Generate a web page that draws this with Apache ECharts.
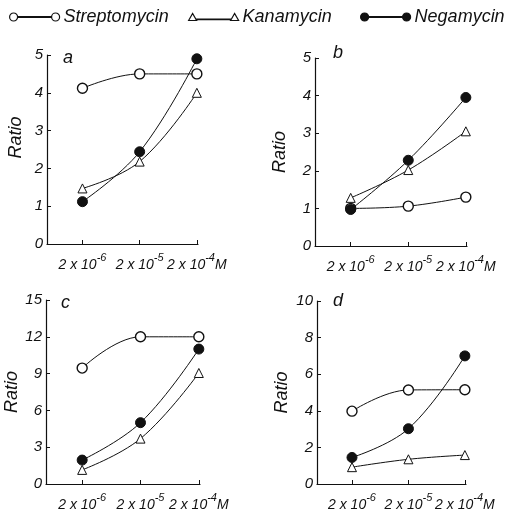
<!DOCTYPE html>
<html>
<head>
<meta charset="utf-8">
<script src="https://cdn.jsdelivr.net/npm/echarts@6/dist/echarts.min.js"></script>
<style>
  html, body { margin: 0; padding: 0; background: #fff; }
  #chart { width: 523px; height: 512px; }
</style>
</head>
<body>
<div id="chart"></div>
<script>
// concentrations on the x axis (index 0,1,2 = 2x10^-6, 2x10^-5, 2x10^-4 M)
const concExp = ['-6', '-5', '-4'];
const xIdx = [0, 1, 2];

// panel a
const aStrep = [4.12, 4.5, 4.5];
const aKana = [1.47, 2.18, 4.0];
const aNega = [1.12, 2.44, 4.9];
// panel b
const bStrep = [1.0, 1.06, 1.3];
const bKana = [1.28, 2.02, 3.05];
const bNega = [0.97, 2.28, 3.95];
// panel c
const cStrep = [9.45, 12.0, 12.0];
const cKana = [1.15, 3.7, 9.05];
const cNega = [1.95, 5.0, 11.0];
// panel d
const dStrep = [3.98, 5.14, 5.15];
const dKana = [0.92, 1.35, 1.58];
const dNega = [1.45, 3.02, 7.0];

const panelLetters = ['a', 'b', 'c', 'd'];
const yMax = [5, 5, 15, 10];
const yStep = [1, 1, 3, 2];

const ink = '#111';
const font = 'Liberation Sans';

let mychart = echarts.init(document.getElementById('chart'));

const grids = [
  {left: 47, top: 55, width: 151, height: 189},
  {left: 315, top: 58, width: 152, height: 188},
  {left: 46, top: 300, width: 154, height: 191},
  {left: 317, top: 301, width: 149, height: 189}
];
const namePad = [[0, 0, 0, 24], [0, 0, 0, 0], [0, 0, 0, 0], [0, 0, 0, 0]];
const nameGaps = [22, 26, 20, 26];
const letterPos = [[63, 49], [333, 44], [61, 294], [333, 292]];

function pts(vals) {
  return xIdx.map((x, i) => [x, vals[i]]);
}

function xLabel(v) {
  let i = Math.round(v);
  let s = '{n|2 x 10}{s|' + concExp[i] + '}';
  if (i === 2) s += '{n|M}';
  return s;
}

let xAxes = [], yAxes = [], series = [], titles = [];
grids.forEach((g, k) => {
  xAxes.push({
    gridIndex: k,
    type: 'value',
    min: -0.62,
    max: 2.02,
    splitLine: {show: false},
    axisLine: {onZero: false, lineStyle: {color: ink, width: 1.2}},
    axisTick: {show: true, inside: true, length: 4, customValues: xIdx, lineStyle: {color: ink}},
    axisLabel: {
      customValues: xIdx,
      margin: 8,
      formatter: xLabel,
      rich: {
        n: {fontFamily: font, fontStyle: 'italic', fontSize: 14, color: ink, lineHeight: 20, verticalAlign: 'bottom'},
        s: {fontFamily: font, fontStyle: 'italic', fontSize: 11, color: ink, lineHeight: 12, verticalAlign: 'top'}
      }
    }
  });
  yAxes.push({
    gridIndex: k,
    type: 'value',
    min: 0,
    max: yMax[k],
    interval: yStep[k],
    name: 'Ratio',
    nameLocation: 'middle',
    nameGap: nameGaps[k],
    nameTextStyle: {fontFamily: font, fontStyle: 'italic', fontSize: 18, color: ink, padding: namePad[k]},
    splitLine: {show: false},
    axisLine: {show: true, onZero: false, lineStyle: {color: ink, width: 1.2}},
    axisTick: {show: true, inside: true, length: 4, lineStyle: {color: ink}},
    axisLabel: {fontFamily: font, fontStyle: 'italic', fontSize: 15, color: ink, margin: 4}
  });
  titles.push({
    text: panelLetters[k],
    left: letterPos[k][0],
    top: letterPos[k][1],
    padding: 0,
    textStyle: {fontFamily: font, fontStyle: 'italic', fontWeight: 'normal', fontSize: 18, color: ink}
  });
});

function lineSeries(name, k, vals, kind) {
  let sym = {
    open: {symbol: 'circle', symbolSize: 10, itemStyle: {color: '#fff', borderColor: ink, borderWidth: 1.4}},
    tri: {symbol: 'triangle', symbolSize: 9, itemStyle: {color: '#fff', borderColor: ink, borderWidth: 1}},
    full: {symbol: 'circle', symbolSize: 10, itemStyle: {color: ink, borderColor: ink, borderWidth: 1}}
  }[kind];
  return Object.assign({
    name: name,
    type: 'line',
    xAxisIndex: k,
    yAxisIndex: k,
    data: pts(vals),
    smooth: 0.4,
    showSymbol: true,
    animation: false,
    lineStyle: {color: ink, width: 1},
    z: kind === 'full' ? 3 : 2
  }, sym);
}

const panelData = [
  [aStrep, aKana, aNega],
  [bStrep, bKana, bNega],
  [cStrep, cKana, cNega],
  [dStrep, dKana, dNega]
];
panelData.forEach((p, k) => {
  series.push(lineSeries('Streptomycin', k, p[0], 'open'));
  series.push(lineSeries('Kanamycin', k, p[1], 'tri'));
  series.push(lineSeries('Negamycin', k, p[2], 'full'));
});

// legend icons: marker - line - marker
const circIcon = 'path://M1,5a4,4 0 1,0 8,0a4,4 0 1,0 -8,0Z M9,4.6L43,4.6L43,5.4L9,5.4Z M43,5a4,4 0 1,0 8,0a4,4 0 1,0 -8,0Z';
const triIcon = 'path://M1,8L5,1L9,8Z M9,6.6L43,6.6L43,7.2L9,7.2Z M43,8L47,1L51,8Z';

function legendAt(left, name, icon, fill) {
  return {
    left: left,
    top: 3,
    itemWidth: 50,
    itemHeight: 10,
    itemGap: 4,
    selectedMode: false,
    data: [{
      name: name,
      icon: icon,
      itemStyle: {color: fill, borderColor: ink, borderWidth: 1.2}
    }],
    textStyle: {fontFamily: font, fontStyle: 'italic', fontSize: 18, color: ink, padding: [0, 0, 0, -1]}
  };
}

let option = {
  backgroundColor: '#fff',
  animation: false,
  title: titles,
  legend: [
    legendAt(4, 'Streptomycin', circIcon, '#fff'),
    legendAt(183, 'Kanamycin', triIcon, '#fff'),
    legendAt(355, 'Negamycin', circIcon, ink)
  ],
  grid: grids,
  xAxis: xAxes,
  yAxis: yAxes,
  series: series
};
mychart.setOption(option);
</script>
</body>
</html>
